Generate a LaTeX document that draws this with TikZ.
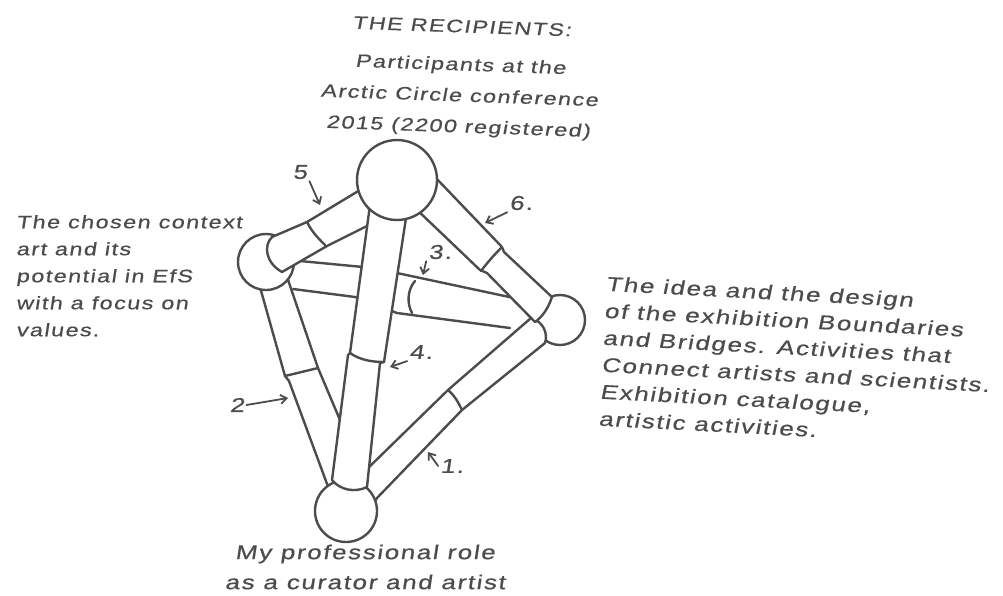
\documentclass[tikz,border=0pt]{standalone}
\usepackage{fontspec}
\newfontfamily\hand[FakeStretch=1.3,LetterSpace=8,FakeSlant=0.15,FakeBold=0.6]{Liberation Sans}
\usetikzlibrary{arrows.meta,calc}
\definecolor{ink}{gray}{0.3}

\begin{document}
\begin{tikzpicture}[x=1pt,y=-1pt,color=ink,line width=2.4pt,line join=round,line cap=round]
\tikzset{
  ball/.style={circle,draw=ink,fill=white,inner sep=0pt,line width=2.4pt},
  rod/.style={draw=ink,fill=white,line width=2.4pt},
  lbl/.style={text=ink,font=\hand\fontsize{20}{24}\selectfont,inner sep=1pt},
  txt/.style={text=ink,align=left,inner sep=0pt},
  arr/.style={-{Straight Barb[length=6pt,width=9pt]},ink,line width=1.8pt}
}
\useasboundingbox (0,0) rectangle (1003,595);

% balls at the back
\node[ball,minimum size=50] (rightC) at (560,320) {};

% rod 3 (left - right, behind the others)
\fill[white] (300,261) -- (363,267) -- (397,273) -- (516,298) -- (511,329) -- (397,313) -- (355,297) -- (293,289) -- cycle;
\draw (300,261) -- (363,267) -- (397,273) -- (514,298);
\draw (293,289) -- (355,297) -- (397,313) -- (510,328);
\draw (415,281) .. controls (407,290) and (407,304) .. (412,313);

% rod 2 (left - bottom)
\draw[rod] (258,280) -- (285,376) -- (289,381) -- (330,492) -- (352,486) -- (340,420) -- (318,368) -- (284,268) -- cycle;
\draw (285,376) -- (318,368);

% rod 1 (bottom - right)
\draw[rod] (360,478) -- (366,470) -- (448,390) -- (531,318) .. controls (544,322) and (548,334) .. (545,343) -- (462,410) -- (377,498) -- (372,506) -- cycle;
\draw (448,390) .. controls (455,396) and (458,402) .. (462,410);

\node[ball,minimum size=62] (botC) at (346,511) {};
\node[ball,minimum size=56] (leftC) at (266,262) {};

% rod 5 (top - left)
\draw[rod] (272,237) -- (307,222) -- (360,190) -- (375,222) -- (327,246) -- (282,272) .. controls (266,263) and (263,246) .. (272,237) -- cycle;
\draw (307,222) .. controls (312,232) and (318,238) .. (325,245);

% rod 4 (top - bottom)
\draw[rod] (370,205) -- (408,205) -- (384,362) -- (380,363) -- (367,487) .. controls (355,493) and (340,490) .. (332,480) -- (348,355) -- (350,353) -- cycle;
\draw (350,353) .. controls (360,360) and (372,362) .. (384,362);

% rod 6 (top - right)
\draw[rod] (434,176) -- (502,247) -- (504,252) -- (552,297) .. controls (548,309) and (542,317) .. (535,322) -- (487,273) -- (480,270) -- (414,207) -- cycle;
\draw (502,247) .. controls (494,255) and (487,263) .. (481,271);

\node[ball,minimum size=80] (topC) at (397,180) {};

% numbers
\node[lbl] (n1) at (452,466) {1.};
\node[lbl] (n2) at (237,405) {2};
\node[lbl] (n3) at (440,252) {3.};
\node[lbl] (n4) at (421,352) {4.};
\node[lbl] (n5) at (300,172) {5};
\node[lbl] (n6) at (521,203) {6.};
\coordinate (p1) at (428,452);
\coordinate (p2) at (288,398);
\coordinate (p3) at (423,275);
\coordinate (p4) at (390,367);
\coordinate (p5) at (320,205);
\coordinate (p6) at (485,223);
\draw[arr] (n1.west) -- (p1);
\draw[arr] (n2.east) -- (p2);
\draw[arr] (n3.south west) -- (p3);
\draw[arr] (n4.south west) -- (p4);
\draw[arr] (n5.south east) -- (p5);
\draw[arr] (n6.south west) -- (p6);

% texts
\node[txt,align=center,rotate=-2,font=\hand\fontsize{18}{31}\selectfont] (recip) at (460,78)
  {THE RECIPIENTS:\\[7pt]Participants at the\\Arctic Circle conference\\2015 (2200 registered)};
\node[txt,anchor=north west,font=\hand\fontsize{18}{27}\selectfont] (content) at (15,214)
  {The chosen context\\art and its\\potential in EfS\\with a focus on\\values.};
\node[txt,anchor=north west,rotate=-3,font=\hand\fontsize{20}{27}\selectfont] (idea) at (605,275)
  {The idea and the design\\of the exhibition Boundaries\\and Bridges. Activities that\\Connect artists and scientists.\\Exhibition catalogue,\\artistic activities.};
\node[txt,align=center,font=\hand\fontsize{20}{30}\selectfont] (role) at (365,567)
  {My professional role\\as a curator and artist};
\end{tikzpicture}
\end{document}
